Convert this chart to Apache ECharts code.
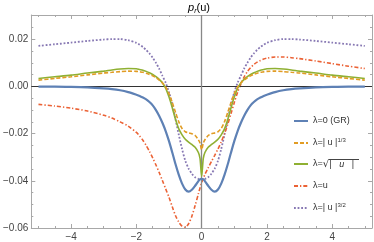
<!DOCTYPE html>
<html><head><meta charset="utf-8">
<script src="https://cdn.jsdelivr.net/npm/echarts@6/dist/echarts.min.js"></script>
<style>html,body{margin:0;padding:0;background:#fff}#c{width:374px;height:242px}</style>
</head><body><div id="c"></div>
<script>
// ---- data ----
const uFull = [-5,-4.5,-4,-3.5,-3,-2.75,-2.5,-2.25,-2,-1.9,-1.8,-1.7,-1.6,-1.5,-1.4,-1.3,-1.2,-1.1,-1,-0.9,-0.8,-0.7,-0.6,-0.5,-0.4,-0.3,-0.2,-0.1,-0.05,0,0.05,0.1,0.2,0.3,0.4,0.5,0.6,0.7,0.8,0.9,1,1.1,1.2,1.3,1.4,1.5,1.6,1.7,1.8,1.9,2,2.25,2.5,2.75,3,3.5,4,4.5,5];

const gr = [-0.0001,-0.0001,-0.0002,-0.0004,-0.0008,-0.0011,-0.0016,-0.0024,-0.0035,-0.0040,-0.0047,-0.0055,-0.0066,-0.0080,-0.0100,-0.0125,-0.0155,-0.0190,-0.0232,-0.0280,-0.0330,-0.0375,-0.0412,-0.0437,-0.0446,-0.0438,-0.0421,-0.0401,-0.0394,-0.0392,-0.0394,-0.0401,-0.0421,-0.0438,-0.0446,-0.0437,-0.0412,-0.0375,-0.0330,-0.0280,-0.0232,-0.0190,-0.0155,-0.0125,-0.0100,-0.0080,-0.0066,-0.0055,-0.0047,-0.0040,-0.0035,-0.0024,-0.0016,-0.0011,-0.0008,-0.0004,-0.0002,-0.0001,-0.0001];

const cubeRoot = [0.0027,0.0034,0.0041,0.0049,0.0057,0.0060,0.0063,0.0065,0.0064,0.0062,0.0060,0.0056,0.0051,0.0045,0.0037,0.0027,0.0015,-0.0003,-0.0030,-0.0068,-0.0110,-0.0150,-0.0178,-0.0192,-0.0197,-0.0200,-0.0208,-0.0226,-0.0240,-0.0268,-0.0240,-0.0226,-0.0208,-0.0200,-0.0197,-0.0192,-0.0178,-0.0150,-0.0110,-0.0068,-0.0030,-0.0003,0.0015,0.0027,0.0037,0.0045,0.0051,0.0056,0.0060,0.0062,0.0064,0.0065,0.0063,0.0060,0.0057,0.0049,0.0041,0.0034,0.0027];

const sqrtAbs = [0.0034,0.0041,0.0048,0.0057,0.0065,0.0070,0.0074,0.0076,0.0075,0.0072,0.0069,0.0064,0.0058,0.0051,0.0042,0.0030,0.0015,-0.0008,-0.0045,-0.0090,-0.0140,-0.0180,-0.0205,-0.0224,-0.0236,-0.0246,-0.0258,-0.0280,-0.0305,-0.0380,-0.0305,-0.0280,-0.0258,-0.0246,-0.0236,-0.0224,-0.0205,-0.0180,-0.0140,-0.0090,-0.0045,-0.0008,0.0015,0.0030,0.0042,0.0051,0.0058,0.0064,0.0069,0.0072,0.0075,0.0076,0.0074,0.0070,0.0065,0.0057,0.0048,0.0041,0.0034];

const linear = [-0.0076,-0.0083,-0.0092,-0.0104,-0.0122,-0.0134,-0.0150,-0.0168,-0.0195,-0.0210,-0.0228,-0.0250,-0.0275,-0.0303,-0.0333,-0.0365,-0.0400,-0.0435,-0.0470,-0.0510,-0.0548,-0.0575,-0.0592,-0.0597,-0.0582,-0.0550,-0.0505,-0.0455,-0.0430,-0.0408,-0.0390,-0.0373,-0.0345,-0.0318,-0.0292,-0.0265,-0.0235,-0.0200,-0.0160,-0.0115,-0.0068,-0.0025,0.0010,0.0040,0.0063,0.0080,0.0093,0.0103,0.0110,0.0116,0.0120,0.0125,0.0125,0.0122,0.0118,0.0108,0.0097,0.0086,0.0076];

const threeHalves = [0.0172,0.0179,0.0186,0.0193,0.0199,0.0201,0.0201,0.0196,0.0185,0.0177,0.0167,0.0155,0.0140,0.0122,0.0100,0.0075,0.0045,0.0015,-0.0025,-0.0075,-0.0140,-0.0205,-0.0265,-0.0315,-0.0348,-0.0370,-0.0385,-0.0392,-0.0394,-0.0395,-0.0394,-0.0392,-0.0385,-0.0370,-0.0348,-0.0315,-0.0265,-0.0205,-0.0140,-0.0075,-0.0025,0.0015,0.0045,0.0075,0.0100,0.0122,0.0140,0.0155,0.0167,0.0177,0.0185,0.0196,0.0201,0.0201,0.0199,0.0193,0.0186,0.0179,0.0172];

const xMajor = [-4,-2,0,2,4];
const xMinor = [-5,-4.5,-3.5,-3,-2.5,-1.5,-1,-0.5,0.5,1,1.5,2.5,3,3.5,4.5,5];
const yMajor = [-0.06,-0.04,-0.02,0,0.02];
const yMinor = [-0.055,-0.05,-0.045,-0.035,-0.03,-0.025,-0.015,-0.01,-0.005,0.005,0.01,0.015,0.025,0.03];

const names = ['GR','cube','sqrt','lin','th'];
const legendText = {
  GR: 'λ=0 (GR)',
  cube: 'λ=| u |{sup|1/3}',
  sqrt: 'λ={rt|√}{ov|| }{ovi|u}{ov| |}',
  lin: 'λ=u',
  th: 'λ=| u |{sup|3/2}'
};

// ---- chart ----
const X0 = -5.22, X1 = 5.22, Y0 = -0.06, Y1 = 0.0303;
const frame = '#a8a8a8', lab = '#444';
const font = 'Liberation Sans, Arial, sans-serif';

// overline image for the square-root vinculum
const ovImg = document.createElement('canvas');
ovImg.width = 40; ovImg.height = 40;
(function(){ const g = ovImg.getContext('2d'); g.fillStyle = '#444'; g.fillRect(0,0,40,3); })();

function xAx(pos, vals, len, showLine, showLabel) {
  return {type:'value', min:X0, max:X1, position:pos, show:true,
    axisLine:{show:showLine, onZero:false, lineStyle:{color:frame, width:1}},
    axisTick:{show:true, inside:true, length:len, customValues:vals, lineStyle:{color:frame}},
    axisLabel:{show:showLabel, customValues:vals, margin:4, color:lab, fontSize:10, fontFamily:font,
      formatter: v => String(v).replace('-', '\u2212')},
    splitLine:{show:false}};
}
function yAx(pos, vals, len, showLine, showLabel) {
  return {type:'value', min:Y0, max:Y1, position:pos, show:true,
    axisLine:{show:showLine, onZero:false, lineStyle:{color:frame, width:1}},
    axisTick:{show:true, inside:true, length:len, customValues:vals, lineStyle:{color:frame}},
    axisLabel:{show:showLabel, customValues:vals, margin:3, color:lab, fontSize:10, fontFamily:font,
      formatter: v => v.toFixed(2).replace('-', '\u2212')},
    splitLine:{show:false}};
}

const toPts = arr => uFull.map((u,i)=>[u, arr[i]]);

const seriesDefs = [
  {name:'GR', data:gr, color:'#5E81B5', width:2.2, type:'solid'},
  {name:'cube', data:cubeRoot, color:'#E19C24', width:1.6, type:[4,2]},
  {name:'sqrt', data:sqrtAbs, color:'#8FB032', width:1.6, type:'solid'},
  {name:'lin', data:linear, color:'#EB6235', width:1.6, type:[4,2,1.3,2]},
  {name:'th', data:threeHalves, color:'#8778B3', width:1.8, type:[1.8,1.8]}
];

const txtC = '#333';
const rowY = [121, 143, 164, 186, 208];
const legends = names.map((n,i)=>({
  data:[n], orient:'vertical', left:293, top:rowY[i]-6, itemWidth:14, itemHeight:12, itemGap:5,
  padding:0, selectedMode:false, itemStyle:{opacity:0},
  formatter: name => legendText[name],
  textStyle:{fontSize:9, color:txtC, fontFamily:font, lineHeight:12,
    rich:{sup:{fontSize:6, lineHeight:6, verticalAlign:'top', color:txtC, fontFamily:font},
          rt:{fontSize:10, color:txtC, fontFamily:'DejaVu Sans', lineHeight:12},
          ov:{fontSize:9, color:txtC, fontFamily:font, lineHeight:12, padding:[1,0,0,0], backgroundColor:{image:ovImg}},
          ovi:{fontSize:9, color:txtC, fontFamily:font, fontStyle:'italic', lineHeight:12, padding:[1,0,0,0], backgroundColor:{image:ovImg}}}}
}));

const chart = echarts.init(document.getElementById('c'), null, {renderer:'canvas'});
chart.setOption({
  animation:false,
  grid:{left:26, right:2, top:15, bottom:14, containLabel:false},
  xAxis:[xAx('bottom', xMajor, 4, true, true), xAx('bottom', xMinor, 2, false, false),
         xAx('top', xMajor, 4, true, false), xAx('top', xMinor, 2, false, false)],
  yAxis:[yAx('left', yMajor, 4, true, true), yAx('left', yMinor, 2, false, false),
         yAx('right', yMajor, 4, true, false), yAx('right', yMinor, 2, false, false)],
  legend: legends,
  graphic:[{type:'text', x:199, y:8, style:{
    text:'{p|p}{s|r}{n|(u)}', align:'center', verticalAlign:'middle',
    rich:{p:{fontSize:11, fontStyle:'italic', fontFamily:font, color:txtC, lineHeight:14, verticalAlign:'middle'},
          s:{fontSize:7, fontStyle:'italic', fontFamily:font, color:txtC, lineHeight:8, verticalAlign:'bottom'},
          n:{fontSize:11, fontFamily:font, color:txtC, lineHeight:14, verticalAlign:'middle'}}}}],
  series: seriesDefs.map((s,i)=>({
    name:s.name, type:'line', xAxisIndex:0, yAxisIndex:0, data:toPts(s.data),
    showSymbol:false, symbol:'none', smooth:0.25, color:s.color,
    lineStyle:{color:s.color, width:s.width, type:s.type},
    z: 3 + (4 - i),
    markLine: i === 0 ? {silent:true, symbol:['none','none'], label:{show:false}, animation:false,
      data:[{yAxis:0, lineStyle:{color:'#333', width:1, type:'solid'}},
            {xAxis:0, lineStyle:{color:'#888', width:1.3, type:'solid'}}]} : undefined
  }))
});
</script></body></html>
